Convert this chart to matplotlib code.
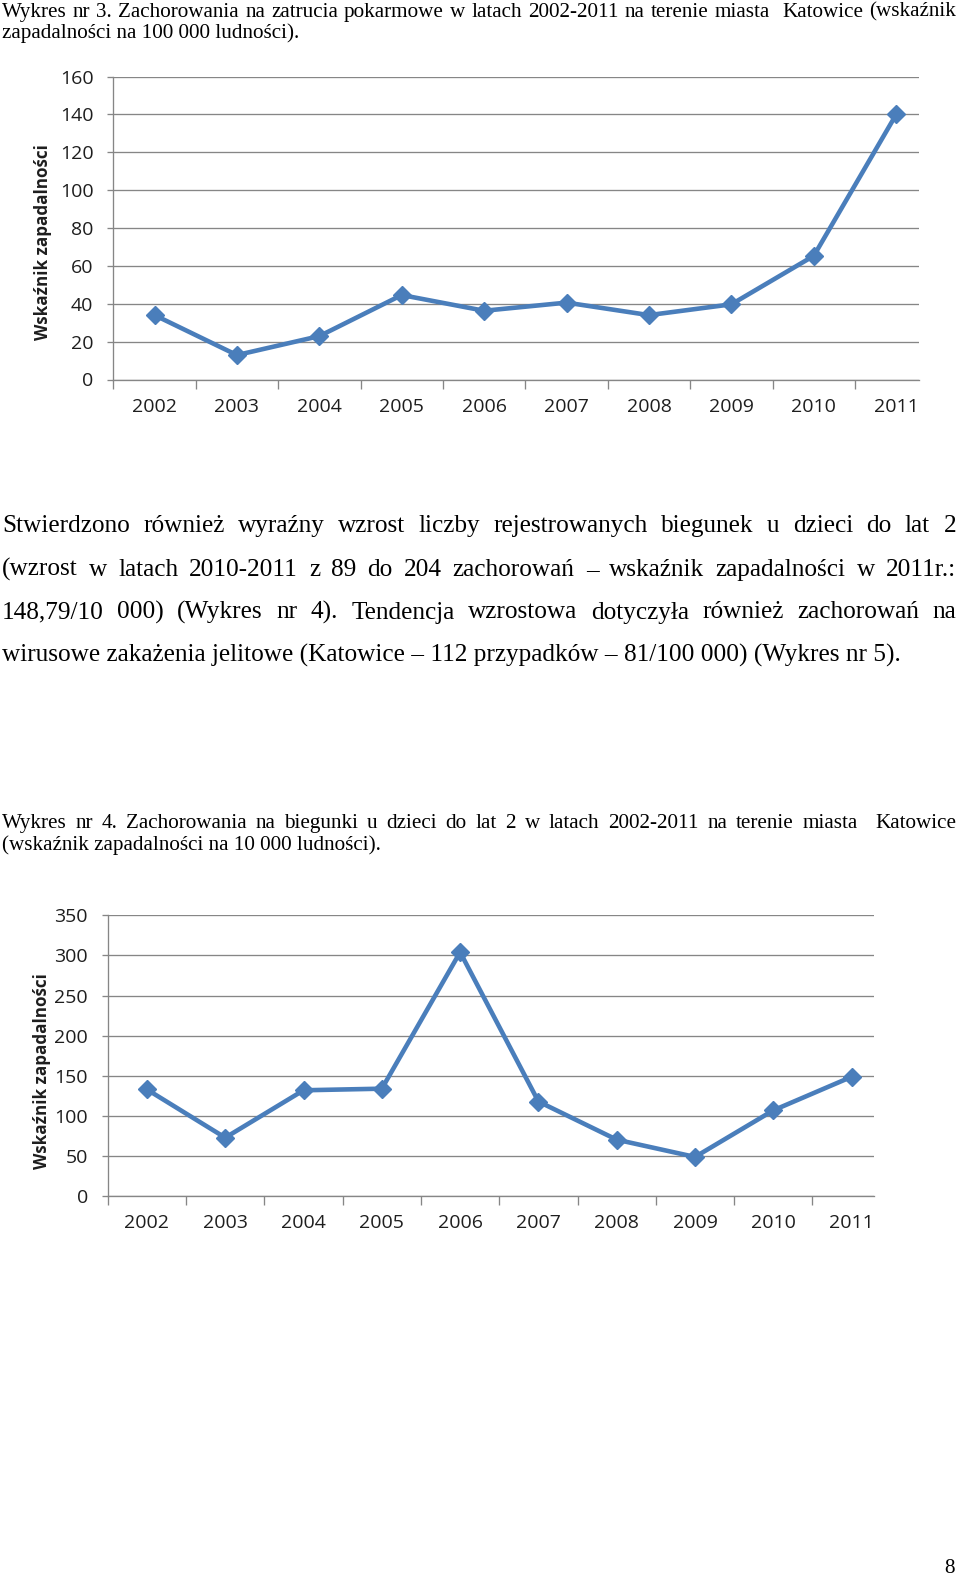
import matplotlib
matplotlib.use('Agg')
import matplotlib.pyplot as plt
import numpy as np

# ---------------- data ----------------
years = ['2002', '2003', '2004', '2005', '2006', '2007', '2008', '2009', '2010', '2011']
food_poisoning_rate = [34.0, 12.9, 22.9, 44.6, 36.3, 40.6, 34.0, 39.7, 65.3, 140.0]   # per 100 000
diarrhoea_rate = [133.0, 73.0, 132.0, 134.0, 304.0, 118.0, 70.5, 49.0, 107.0, 148.79]  # per 10 000
ylabel_text = 'Wskaźnik zapadalności'

title1_lines = [
    'Wykres nr 3. Zachorowania na zatrucia pokarmowe w latach 2002-2011 na terenie miasta  Katowice (wskaźnik',
    'zapadalności na 100 000 ludności).',
]
body_lines = [
    'Stwierdzono również wyraźny wzrost liczby rejestrowanych biegunek u dzieci do lat 2',
    '(wzrost w latach 2010-2011 z 89 do 204 zachorowań – wskaźnik zapadalności w 2011r.:',
    '148,79/10 000) (Wykres nr 4). Tendencja wzrostowa dotyczyła również zachorowań na',
    'wirusowe zakażenia jelitowe (Katowice – 112 przypadków – 81/100 000) (Wykres nr 5).',
]
title2_lines = [
    'Wykres nr 4. Zachorowania na biegunki u dzieci do lat 2 w latach 2002-2011 na terenie miasta  Katowice',
    '(wskaźnik zapadalności na 10 000 ludności).',
]
page_number = '8'

# ---------------- layout ----------------
W, H = 960, 1576
plt.rcParams['font.family'] = ['Open Sans', 'DejaVu Sans']
fig = plt.figure(figsize=(W / 100, H / 100), dpi=100)
fig.patch.set_facecolor('white')
renderer = fig.canvas.get_renderer()

SERIF = ['Liberation Serif', 'DejaVu Serif']
LINE_COLOR = '#4A7EBB'
GRID_COLOR = '#868686'
TITLE_FS = 15.2
BODY_FS = 18.2


def text_line(s, x0, x1, y, size, justify):
    if not justify:
        fig.text(x0 / W, 1 - y / H, s, fontsize=size, family=SERIF,
                 va='baseline', ha='left', color='black')
        return
    words = s.split(' ')
    arts = [fig.text(0, 1 - y / H, w, fontsize=size, family=SERIF,
                     va='baseline', ha='left', color='black') for w in words]
    widths = [a.get_window_extent(renderer).width if w else 0.0
              for a, w in zip(arts, words)]
    gap = (x1 - x0 - sum(widths)) / (len(words) - 1)
    x = x0
    for a, wdt in zip(arts, widths):
        a.set_x(x / W)
        x += wdt + gap


# titles and body text
text_line(title1_lines[0], 2, 956, 16.7, TITLE_FS, True)
text_line(title1_lines[1], 2, 956, 38.3, TITLE_FS, False)

body_base = [532.3, 576.0, 618.5, 661.7]
for i, (ln, yb) in enumerate(zip(body_lines, body_base)):
    text_line(ln, 2, 956, yb, BODY_FS, i < len(body_lines) - 1)

text_line(title2_lines[0], 2, 956, 828.3, TITLE_FS, True)
text_line(title2_lines[1], 2, 956, 850.0, TITLE_FS, False)

fig.text(955 / W, 1 - 1573 / H, page_number, fontsize=TITLE_FS, family=SERIF,
         ha='right', va='baseline')


def draw_chart(rect_px, values, ymax, ystep, xmax, label_xy):
    left, right, y0, ytop = rect_px
    ax = fig.add_axes([left / W, 1 - y0 / H, (right - left) / W, (y0 - ytop) / H])
    x = np.arange(len(years))
    ax.plot(x, values, color=LINE_COLOR, lw=3.3, marker='D', ms=9.3,
            mfc=LINE_COLOR, mec=LINE_COLOR, solid_joinstyle='round',
            solid_capstyle='round', clip_on=False, zorder=3)
    ax.set_xlim(-0.5, xmax)
    ax.set_ylim(0, ymax)
    ax.set_yticks(np.arange(0, ymax + 1, ystep))
    ax.yaxis.grid(True, color=GRID_COLOR, lw=0.95)
    ax.set_axisbelow(True)
    ax.set_xticks(x)
    ax.set_xticklabels(years)
    ax.set_xticks(np.arange(-0.5, xmax, 1.0), minor=True)
    ax.tick_params(axis='x', which='major', length=0, pad=13, labelsize=14,
                   labelcolor='#1e1e1e')
    ax.tick_params(axis='x', which='minor', length=6.5, width=0.95,
                   color=GRID_COLOR, direction='out')
    ax.tick_params(axis='y', length=4.3, width=0.95, color=GRID_COLOR,
                   pad=10, labelsize=14, labelcolor='#1e1e1e')
    for s in ['top', 'right']:
        ax.spines[s].set_visible(False)
    for s in ['left', 'bottom']:
        ax.spines[s].set_color(GRID_COLOR)
        ax.spines[s].set_linewidth(0.95)
    # rotated axis label, sized to match reference length (~195 px)
    t = fig.text(label_xy[0] / W, 1 - label_xy[1] / H, ylabel_text, rotation=90,
                 ha='center', va='center', fontweight='bold', fontsize=11,
                 color='#1e1e1e')
    ext = t.get_window_extent(renderer)
    t.set_fontsize(11 * 195.0 / ext.height)
    return ax


draw_chart((113.3, 919.3, 379.5, 76.5), food_poisoning_rate, 160, 20, 9.28, (43.2, 241.8))
draw_chart((107.8, 874.3, 1196.3, 915.2), diarrhoea_rate, 350, 50, 9.29, (42.2, 1070.6))

fig.savefig('out.png', dpi=100, facecolor='white')
